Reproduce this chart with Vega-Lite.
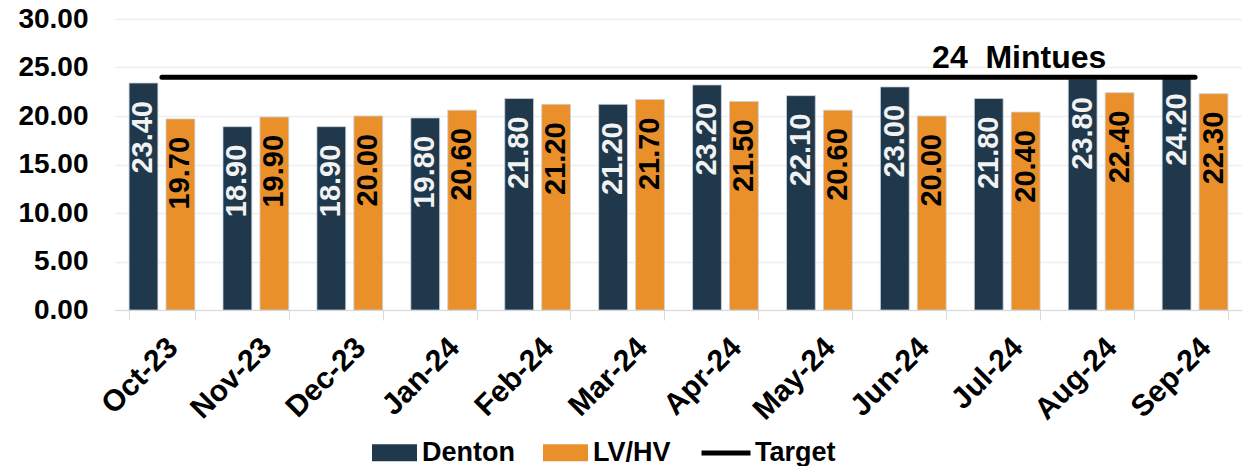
{
  "$schema": "https://vega.github.io/schema/vega-lite/v6.json",
  "width": 1127,
  "height": 291,
  "padding": {"top": 5, "left": 17, "right": 0, "bottom": 0},
  "autosize": {"type": "pad"},
  "config": {
    "font": "Liberation Sans",
    "view": {"stroke": null},
    "axis": {"labelColor": "black", "labelFontWeight": "bold", "title": null}
  },
  "datasets": {
    "bars": [
      {"month": "Oct-23", "series": "Denton", "value": 23.4},
      {"month": "Oct-23", "series": "LV/HV", "value": 19.7},
      {"month": "Nov-23", "series": "Denton", "value": 18.9},
      {"month": "Nov-23", "series": "LV/HV", "value": 19.9},
      {"month": "Dec-23", "series": "Denton", "value": 18.9},
      {"month": "Dec-23", "series": "LV/HV", "value": 20.0},
      {"month": "Jan-24", "series": "Denton", "value": 19.8},
      {"month": "Jan-24", "series": "LV/HV", "value": 20.6},
      {"month": "Feb-24", "series": "Denton", "value": 21.8},
      {"month": "Feb-24", "series": "LV/HV", "value": 21.2},
      {"month": "Mar-24", "series": "Denton", "value": 21.2},
      {"month": "Mar-24", "series": "LV/HV", "value": 21.7},
      {"month": "Apr-24", "series": "Denton", "value": 23.2},
      {"month": "Apr-24", "series": "LV/HV", "value": 21.5},
      {"month": "May-24", "series": "Denton", "value": 22.1},
      {"month": "May-24", "series": "LV/HV", "value": 20.6},
      {"month": "Jun-24", "series": "Denton", "value": 23.0},
      {"month": "Jun-24", "series": "LV/HV", "value": 20.0},
      {"month": "Jul-24", "series": "Denton", "value": 21.8},
      {"month": "Jul-24", "series": "LV/HV", "value": 20.4},
      {"month": "Aug-24", "series": "Denton", "value": 23.8},
      {"month": "Aug-24", "series": "LV/HV", "value": 22.4},
      {"month": "Sep-24", "series": "Denton", "value": 24.2},
      {"month": "Sep-24", "series": "LV/HV", "value": 22.3}
    ],
    "target": [
      {"month": "Oct-23", "value": 24, "series": "Target"},
      {"month": "Nov-23", "value": 24, "series": "Target"},
      {"month": "Dec-23", "value": 24, "series": "Target"},
      {"month": "Jan-24", "value": 24, "series": "Target"},
      {"month": "Feb-24", "value": 24, "series": "Target"},
      {"month": "Mar-24", "value": 24, "series": "Target"},
      {"month": "Apr-24", "value": 24, "series": "Target"},
      {"month": "May-24", "value": 24, "series": "Target"},
      {"month": "Jun-24", "value": 24, "series": "Target"},
      {"month": "Jul-24", "value": 24, "series": "Target"},
      {"month": "Aug-24", "value": 24, "series": "Target"},
      {"month": "Sep-24", "value": 24, "series": "Target"}
    ],
    "note": [
      {"month": "Jul-24", "value": 24, "label": "24\u00a0\u00a0Mintues"}
    ]
  },
  "encoding": {
    "x": {
      "field": "month",
      "type": "nominal",
      "sort": null,
      "scale": {"paddingInner": 0.3, "paddingOuter": 0.15},
      "axis": {
        "labelAngle": -45,
        "labelFontSize": 30,
        "tickBand": "extent",
        "tickSize": 10,
        "tickColor": "#d9d9d9",
        "domainColor": "#d9d9d9",
        "labelPadding": 12,
        "grid": false
      }
    },
    "y": {
      "field": "value",
      "type": "quantitative",
      "scale": {"domain": [0, 30], "nice": false},
      "axis": {
        "values": [0, 5, 10, 15, 20, 25, 30],
        "format": ".2f",
        "labelFontSize": 28,
        "labelPadding": 27,
        "domain": false,
        "ticks": false,
        "gridColor": "#eeeeee",
        "gridWidth": 1.5
      }
    }
  },
  "layer": [
    {
      "data": {"name": "bars"},
      "mark": {"type": "bar", "stroke": "#c9d1d9", "strokeWidth": 0.8},
      "encoding": {
        "xOffset": {"field": "series", "type": "nominal", "scale": {"paddingInner": 0.22}},
        "fill": {
          "field": "series",
          "type": "nominal",
          "scale": {"domain": ["Denton", "LV/HV"], "range": ["#1f384c", "#e9902a"]},
          "legend": {
            "title": null,
            "orient": "none",
            "legendX": 257,
            "legendY": 411,
            "direction": "horizontal",
            "labelFontSize": 27,
            "labelFontWeight": "bold",
            "labelColor": "black",
            "symbolSize": 2025,
            "symbolType": "M-1,-0.38H1V0.38H-1Z",
            "symbolStrokeWidth": 0,
            "columnPadding": 28,
            "labelOffset": 5
          }
        }
      }
    },
    {
      "data": {"name": "bars"},
      "mark": {"type": "text", "angle": 270, "align": "right", "baseline": "middle", "dx": -18, "fontSize": 29, "fontWeight": "bold"},
      "encoding": {
        "xOffset": {"field": "series", "type": "nominal", "scale": {"paddingInner": 0.22}},
        "text": {"field": "value", "type": "quantitative", "format": ".2f"},
        "color": {"condition": {"test": "datum.series === 'Denton'", "value": "#f2f2f2"}, "value": "#000000"}
      }
    },
    {
      "data": {"name": "target"},
      "mark": {"type": "line", "strokeWidth": 5, "strokeCap": "round"},
      "encoding": {
        "stroke": {
          "field": "series",
          "type": "nominal",
          "scale": {"domain": ["Target"], "range": ["#000000"]},
          "legend": {
            "title": null,
            "orient": "none",
            "legendX": 584,
            "legendY": 407,
            "direction": "horizontal",
            "labelFontSize": 27,
            "labelFontWeight": "bold",
            "labelColor": "black",
            "symbolType": "stroke",
            "symbolSize": 2401,
            "symbolStrokeWidth": 5,
            "labelOffset": 2
          }
        }
      }
    },
    {
      "data": {"name": "note"},
      "mark": {"type": "text", "fontSize": 32, "fontWeight": "bold", "baseline": "alphabetic", "dy": -9, "dx": 12, "color": "#000000"},
      "encoding": {"text": {"field": "label"}}
    }
  ]
}
